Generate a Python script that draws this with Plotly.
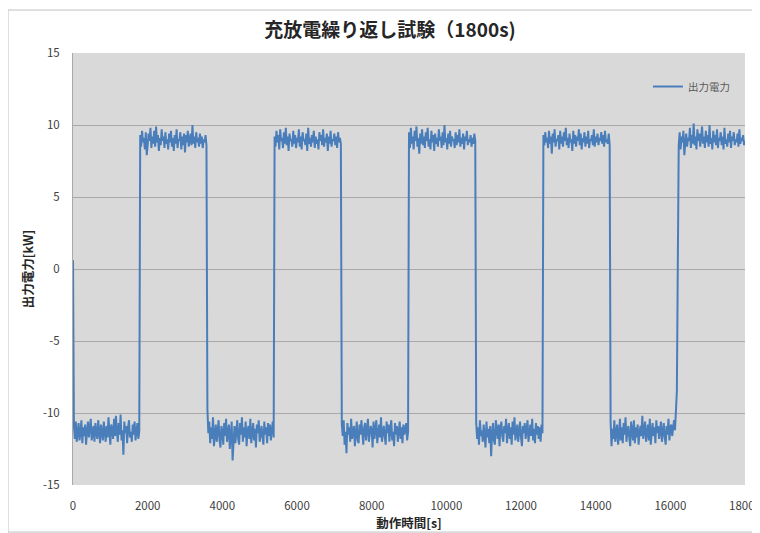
import plotly.graph_objects as go

# time step of the sampled series [s]
step_s = 25

low1 = [0.6, -10.9, -11.8, -10.6, -12.0, -11.2, -10.7, -11.9, -11.4, -10.5, -12.1, -11.0, -11.6, -10.8, -12.2, -11.3, -10.6, -11.7,
        -11.1, -10.4, -11.9, -11.5, -10.9, -12.0, -10.7, -11.3, -11.8, -10.5, -11.6, -12.1, -10.8, -11.2, -11.9, -10.6, -11.4, -12.0,
        -10.9, -11.7, -10.3, -11.5, -12.2, -10.8, -11.1, -11.8, -10.4, -11.6, -10.2, -11.3, -12.0, -10.7, -11.5, -10.1, -11.9, -11.2,
        -12.9, -10.6, -11.4, -10.9, -12.1, -11.0, -10.5, -11.7, -11.3, -12.0, -10.8, -11.5, -10.6, -11.9, -11.1, -10.7, -11.8, -11.3]
high1 = [9.3, 8.5, 9.6, 8.8, 9.1, 8.3, 9.5, 7.9, 8.6, 9.4, 8.9, 9.8, 8.4, 9.2, 8.7, 9.6, 8.5, 9.9,
         8.8, 9.3, 8.2, 9.1, 8.6, 9.7, 8.9, 9.2, 8.4, 9.5, 8.7, 9.0, 8.3, 9.4, 8.8, 9.6, 8.5, 9.1,
         8.2, 9.3, 8.7, 9.7, 8.4, 9.0, 8.9, 9.5, 8.3, 9.2, 8.6, 9.4, 8.1, 9.3, 8.8, 9.6, 8.5, 9.0,
         9.4, 8.6, 10.0, 8.7, 9.2, 8.4, 9.5, 8.8, 9.1, 8.5, 9.4, 8.7, 9.2, 8.4, 9.0, 8.8, 9.3, 8.6]
low2 = [-9.7, -11.4, -10.6, -12.1, -11.0, -11.8, -10.3, -12.3, -11.5, -10.8, -12.0, -11.2, -10.5, -11.9, -12.4, -10.9, -11.3, -12.2,
        -10.7, -11.6, -10.4, -12.0, -11.1, -10.8, -12.5, -11.4, -10.6, -13.3, -11.7, -10.9, -12.1, -11.3, -10.5, -11.8, -12.2, -10.7,
        -11.5, -10.3, -12.0, -11.0, -11.7, -10.6, -12.3, -11.2, -10.9, -11.8, -10.4, -12.1, -11.5, -10.7, -11.9, -11.1, -12.4, -10.8,
        -11.4, -10.5, -12.0, -11.3, -10.9, -11.7, -12.2, -10.6, -11.5, -11.0, -12.1, -10.7, -11.6, -10.8, -11.9, -11.2, -10.6, -11.7]
high2 = [9.2, 8.5, 9.6, 8.8, 9.3, 8.3, 9.7, 8.9, 9.1, 8.4, 9.5, 8.7, 9.8, 8.6, 9.2, 8.2, 9.4, 8.9,
         9.0, 8.5, 9.6, 8.7, 9.3, 8.4, 9.1, 8.8, 9.7, 8.5, 9.2, 8.3, 9.5, 8.9, 9.0, 8.6, 9.4, 8.2,
         9.8, 8.7, 9.1, 8.5, 9.3, 8.8, 9.6, 8.4, 9.2, 8.7, 9.0, 8.3, 9.5, 8.9, 9.3, 8.6, 9.7, 8.5,
         9.1, 8.8, 9.4, 8.2, 9.2, 8.7, 9.6, 8.5, 9.0, 8.9, 9.4, 8.6, 9.2, 8.4, 9.5, 8.8, 9.1, 8.7]
low3 = [-10.8, -11.6, -10.5, -12.2, -11.3, -12.8, -10.7, -11.5, -11.0, -12.0, -10.4, -11.8, -11.2, -10.9, -12.3, -11.4, -10.6, -11.9,
        -12.1, -10.8, -11.5, -10.5, -11.7, -12.2, -11.0, -10.7, -11.9, -11.3, -10.4, -12.0, -11.6, -10.9, -11.2, -12.4, -10.6, -11.8,
        -11.1, -10.5, -12.1, -11.4, -10.8, -11.7, -10.3, -12.0, -11.3, -10.9, -11.6, -12.2, -10.6, -11.4, -10.8, -12.0, -11.1, -10.5,
        -11.9, -11.3, -12.3, -10.7, -11.5, -10.9, -12.0, -11.2, -10.6, -11.8, -11.0, -12.1, -10.8, -11.5, -11.2, -10.7, -11.9, -11.3]
high3 = [9.5, 8.4, 9.8, 8.7, 9.2, 8.3, 9.6, 8.9, 9.9, 8.5, 9.1, 8.0, 9.4, 8.7, 9.7, 8.6, 9.2, 8.4,
         9.5, 8.9, 9.8, 8.5, 9.0, 8.3, 9.6, 8.8, 9.3, 8.2, 9.4, 8.7, 9.1, 8.5, 9.7, 8.9, 9.2, 8.4,
         9.5, 8.6, 10.0, 8.8, 9.1, 8.3, 9.4, 8.7, 9.6, 8.5, 9.2, 8.9, 9.0, 8.4, 9.5, 8.6, 9.3, 8.8,
         9.7, 8.5, 9.1, 8.7, 9.4, 8.3, 9.2, 8.9, 9.6, 8.6, 9.0, 8.8, 9.3, 8.5, 9.1, 8.7, 9.4, 8.9]
low4 = [-10.7, -11.8, -11.0, -12.2, -10.5, -11.6, -11.2, -12.0, -10.8, -11.4, -12.4, -10.6, -11.7, -11.1, -12.1, -10.9, -13.0, -11.5,
        -10.7, -11.9, -12.2, -10.5, -11.3, -11.8, -10.8, -12.3, -11.0, -10.6, -11.6, -12.0, -10.9, -11.4, -10.4, -12.1, -11.2, -10.7,
        -11.8, -11.0, -12.2, -10.6, -11.5, -10.3, -11.9, -11.3, -10.8, -12.0, -11.1, -10.6, -11.7, -12.3, -10.9, -11.4, -10.7, -11.8,
        -11.2, -10.5, -12.0, -11.3, -10.8, -11.6, -10.4, -11.9, -11.1, -12.1, -10.7, -11.5, -10.9, -11.8, -11.0, -12.0, -10.8, -11.4]
high4 = [9.3, 8.6, 9.5, 8.8, 9.1, 8.4, 9.6, 8.7, 9.2, 8.0, 9.4, 8.8, 9.7, 8.5, 9.0, 8.9, 9.3, 8.3,
         9.6, 8.7, 9.2, 8.5, 9.5, 8.9, 9.8, 8.6, 9.1, 8.4, 9.4, 8.8, 9.0, 8.2, 9.6, 8.7, 9.3, 8.5,
         9.2, 8.9, 9.7, 8.6, 9.4, 8.3, 9.1, 8.8, 9.5, 8.5, 9.2, 8.7, 9.6, 8.4, 9.0, 8.9, 9.3, 8.6,
         9.7, 8.5, 9.2, 8.8, 9.4, 8.6, 9.1, 8.9, 9.5, 8.7, 9.3, 8.5, 9.6, 8.8, 9.0, 8.7, 9.4, 8.6]
low5 = [-10.6, -12.3, -11.1, -11.8, -10.5, -12.0, -11.4, -10.8, -12.2, -11.6, -10.4, -11.9, -11.0, -12.1, -10.7, -11.5, -10.3, -12.0,
        -11.3, -10.9, -11.7, -12.3, -10.6, -11.2, -11.9, -10.5, -12.1, -11.0, -11.7, -10.8, -12.2, -11.4, -10.9, -11.6, -10.2, -11.8,
        -11.1, -10.6, -12.0, -11.5, -10.8, -11.9, -10.4, -12.2, -11.3, -10.7, -11.6, -11.0, -12.1, -10.5, -11.4, -10.9, -11.8, -11.2,
        -10.6, -12.0, -11.3, -10.7, -11.7, -12.2, -10.9, -11.5, -10.4, -11.9, -11.1, -10.8, -11.6, -11.0, -10.5, -11.2, -10.0, -8.5]
high5 = [0.3, 8.6, 9.5, 8.3, 9.2, 8.8, 9.6, 7.9, 8.7, 9.4, 8.5, 9.1, 8.9, 9.8, 8.4, 9.3, 8.7, 10.1,
         8.6, 9.2, 8.3, 9.7, 8.9, 9.4, 8.5, 9.0, 9.9, 8.7, 9.2, 8.4, 9.6, 8.8, 9.3, 8.5, 10.0, 8.7,
         9.1, 8.3, 9.6, 8.8, 9.3, 8.6, 9.7, 8.4, 9.1, 8.9, 9.5, 8.6, 9.2, 8.3, 9.8, 8.7, 9.0, 8.5,
         9.4, 8.8, 9.6, 8.4, 9.2, 8.9, 9.5, 8.6, 9.0, 8.8, 9.4, 8.5, 9.7, 8.7, 9.1, 8.9, 9.3, 8.6]
end_value = [8.9]

power_kw = low1 + high1 + low2 + high2 + low3 + high3 + low4 + high4 + low5 + high5 + end_value
time_s = [i * step_s for i in range(len(power_kw))]

x_ticks = [0, 2000, 4000, 6000, 8000, 10000, 12000, 14000, 16000, 18000]
y_ticks = [-15, -10, -5, 0, 5, 10, 15]

title_text = "充放電繰り返し試験（1800s)"
series_name = "出力電力"
x_title = "動作時間[s]"
y_title = "出力電力[kW]"

font_family = "Noto Sans CJK JP, Noto Sans, sans-serif"

fig = go.Figure()
fig.add_trace(go.Scatter(
    x=time_s, y=power_kw, mode="lines", name=series_name,
    line=dict(color="#4a7ebb", width=2),
))

fig.update_layout(
    width=752, height=525,
    margin=dict(l=65, r=15, t=45, b=48),
    paper_bgcolor="white",
    plot_bgcolor="#d9d9d9",
    font=dict(family=font_family, size=11, color="#404040"),
    title=dict(text="<b>" + title_text + "</b>", x=0.508, xanchor="center", y=0.958, yanchor="middle",
               font=dict(size=19, color="#262626", family=font_family)),
    showlegend=True,
    legend=dict(x=0.985, xanchor="right", y=0.956, yanchor="top", bgcolor="rgba(0,0,0,0)",
                font=dict(size=10.5, color="#595959"), itemwidth=30),
    shapes=[dict(type="rect", xref="paper", yref="paper", x0=-0.0967, x1=1.018, y0=-0.109, y1=1.0995,
                 line=dict(color="#bfbfbf", width=1), fillcolor="rgba(0,0,0,0)", layer="below")],
)

fig.update_xaxes(
    range=[0, 18000], tickvals=x_ticks, ticktext=[str(v) for v in x_ticks],
    showgrid=False, zeroline=False, showline=False, automargin=False,
    ticks="", ticklabelstandoff=12, ticklabeloverflow="allow",
    tickfont=dict(size=11.5, color="#404040"),
    title=dict(text="<b>" + x_title + "</b>", standoff=6, font=dict(size=12.5, color="#262626")),
)
fig.update_yaxes(
    range=[-15, 15], tickvals=y_ticks, ticktext=[str(v) for v in y_ticks],
    showgrid=True, gridcolor="#a9a9a9", gridwidth=1, zeroline=False, automargin=False,
    showline=True, linecolor="#a9a9a9", linewidth=1,
    ticks="", ticklabelstandoff=10,
    tickfont=dict(size=11.5, color="#404040"),
    title=dict(text="<b>" + y_title + "</b>", standoff=6, font=dict(size=12.5, color="#262626")),
)

fig.write_html("out.html")
